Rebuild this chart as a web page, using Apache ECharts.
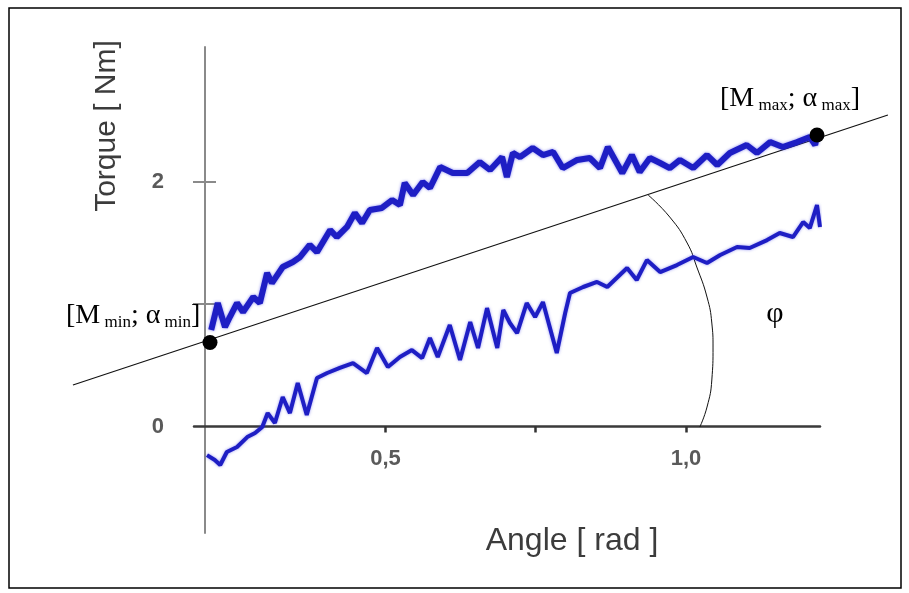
<!DOCTYPE html>
<html>
<head>
<meta charset="utf-8">
<script src="https://cdn.jsdelivr.net/npm/echarts@6/dist/echarts.min.js"></script>
<style>
  html, body { margin: 0; padding: 0; background: #fff; }
  #chart { width: 909px; height: 593px; }
</style>
</head>
<body>
<div id="chart"></div>
<script>
// Upper torque curve (angle in rad, torque in Nm)
const upperAngle = [0.210, 0.221, 0.233, 0.241, 0.253, 0.263, 0.280, 0.291, 0.303, 0.311, 0.329, 0.346, 0.358, 0.374, 0.386, 0.408, 0.419, 0.436, 0.449, 0.461, 0.474, 0.494, 0.511, 0.524, 0.532, 0.546, 0.562, 0.574, 0.591, 0.612, 0.636, 0.657, 0.674, 0.694, 0.702, 0.712, 0.724, 0.745, 0.762, 0.779, 0.795, 0.819, 0.840, 0.857, 0.870, 0.894, 0.910, 0.923, 0.940, 0.957, 0.973, 0.990, 1.012, 1.035, 1.052, 1.073, 1.101, 1.118, 1.140, 1.161, 1.185, 1.206, 1.215, 1.218];
const upperTorque = [0.788, 1.008, 0.812, 0.894, 1.008, 0.935, 1.057, 1.008, 1.253, 1.171, 1.302, 1.343, 1.384, 1.482, 1.424, 1.604, 1.547, 1.629, 1.743, 1.661, 1.767, 1.784, 1.849, 1.808, 1.988, 1.890, 1.996, 1.947, 2.118, 2.069, 2.069, 2.159, 2.094, 2.200, 2.037, 2.233, 2.200, 2.273, 2.216, 2.241, 2.110, 2.176, 2.192, 2.110, 2.282, 2.069, 2.216, 2.078, 2.192, 2.151, 2.110, 2.176, 2.110, 2.216, 2.135, 2.233, 2.298, 2.233, 2.322, 2.282, 2.322, 2.363, 2.298, 2.380];

// Lower torque curve
const lowerAngle = [0.203, 0.216, 0.225, 0.236, 0.253, 0.270, 0.283, 0.295, 0.304, 0.316, 0.329, 0.341, 0.354, 0.369, 0.386, 0.403, 0.424, 0.446, 0.469, 0.486, 0.504, 0.524, 0.544, 0.561, 0.574, 0.587, 0.607, 0.624, 0.641, 0.654, 0.669, 0.686, 0.696, 0.707, 0.719, 0.735, 0.749, 0.762, 0.785, 0.799, 0.807, 0.829, 0.852, 0.869, 0.902, 0.918, 0.935, 0.957, 0.985, 1.012, 1.035, 1.057, 1.085, 1.106, 1.135, 1.156, 1.178, 1.195, 1.206, 1.218, 1.223];
const lowerTorque = [-0.233, -0.273, -0.314, -0.208, -0.167, -0.086, -0.053, -0.004, 0.110, 0.029, 0.241, 0.110, 0.355, 0.094, 0.396, 0.437, 0.478, 0.518, 0.437, 0.641, 0.486, 0.567, 0.624, 0.559, 0.722, 0.567, 0.829, 0.543, 0.853, 0.641, 0.967, 0.641, 0.951, 0.845, 0.763, 1.008, 0.894, 1.016, 0.600, 0.927, 1.090, 1.139, 1.180, 1.139, 1.294, 1.196, 1.359, 1.261, 1.318, 1.384, 1.335, 1.400, 1.465, 1.457, 1.522, 1.580, 1.547, 1.669, 1.620, 1.808, 1.629];

// straight line through [M min; a min] and [M max; a max]
const fitAngle = [-0.020, 1.336];
const fitTorque = [0.339, 2.543];
const pointAngle = [0.208, 1.218];
const pointTorque = [0.686, 2.380];

// angle arc phi
const arcAngle = [0.937, 0.973, 1.002, 1.018, 1.035, 1.043, 1.045, 1.043, 1.035, 1.023];
const arcTorque = [1.890, 1.710, 1.498, 1.302, 1.057, 0.845, 0.649, 0.380, 0.159, -0.004];

// tick positions / labels
const xTicks = [0.5, 0.75, 1.0];
const xLabels = [0.5, 1.0];
const yTicks = [1, 2];
const yLabels = [0, 2];

const zip = (a, b) => a.map((v, i) => [v, b[i]]);

const chart = echarts.init(document.getElementById('chart'));

const Y_MIN = -0.869, Y_MAX = 3.098;
const X_MIN = 0.1814, X_MAX = 1.223;

// main plot box and a wider box (same scale) for the straight line that runs past the axes
const GRID = { left: 194, right: 89, top: 47, bottom: 60 };
const WIDE = { left: 60, right: 10, top: 47, bottom: 60 };
const pxPerX = (909 - GRID.left - GRID.right) / (X_MAX - X_MIN);
const WX_MIN = X_MIN - (GRID.left - WIDE.left) / pxPerX;
const WX_MAX = X_MAX + (GRID.right - WIDE.right) / pxPerX;

// offset that brings the x axis onto torque = 0
const plotH = 593 - GRID.top - GRID.bottom;
const zeroOffset = -plotH * (0 - Y_MIN) / (Y_MAX - Y_MIN);

const bigFont = 'Times New Roman, Liberation Serif, serif';
const annRich = {
  b: { fontFamily: bigFont, fontSize: 28, lineHeight: 30, color: '#000' },
  s: { fontFamily: bigFont, fontSize: 17, lineHeight: 17, verticalAlign: 'bottom', color: '#000' }
};

chart.setOption({
  animation: false,
  backgroundColor: '#fff',
  grid: [
    Object.assign({}, GRID),
    Object.assign({}, WIDE)
  ],
  xAxis: [
    {
      type: 'value',
      gridIndex: 0,
      min: X_MIN,
      max: X_MAX,
      offset: zeroOffset,
      axisLine: { onZero: false, lineStyle: { color: '#3a3a3a', width: 2.5 } },
      axisTick: { show: true, length: 6, customValues: xTicks, lineStyle: { color: '#333', width: 2.5 } },
      axisLabel: {
        customValues: xLabels,
        margin: 21,
        fontFamily: 'Liberation Sans',
        fontSize: 22,
        fontWeight: 'bold',
        color: '#5a5a5a',
        formatter: v => v.toFixed(1).replace('.', ',')
      },
      splitLine: { show: false }
    },
    {
      type: 'value',
      gridIndex: 1,
      min: WX_MIN,
      max: WX_MAX,
      show: false
    }
  ],
  yAxis: [
    {
      type: 'value',
      gridIndex: 0,
      position: 'left',
      min: Y_MIN,
      max: Y_MAX,
      offset: -11,
      axisLine: { show: true, onZero: false, lineStyle: { color: '#8a8a8a', width: 2 } },
      axisTick: { show: true, length: 12, customValues: yTicks, lineStyle: { color: '#8a8a8a', width: 2 } },
      axisLabel: {
        customValues: yLabels,
        margin: 41,
        fontFamily: 'Liberation Sans',
        fontSize: 22,
        fontWeight: 'bold',
        color: '#5a5a5a'
      },
      splitLine: { show: false }
    },
    {
      type: 'value',
      gridIndex: 0,
      position: 'left',
      min: Y_MIN,
      max: Y_MAX,
      offset: -11,
      axisLine: { show: false, onZero: false },
      axisTick: { show: true, inside: true, length: 11, customValues: yTicks, lineStyle: { color: '#8a8a8a', width: 2 } },
      axisLabel: { show: false },
      splitLine: { show: false }
    },
    {
      type: 'value',
      gridIndex: 1,
      min: Y_MIN,
      max: Y_MAX,
      show: false
    }
  ],
  series: [
    {
      name: 'fit',
      type: 'line',
      xAxisIndex: 1,
      yAxisIndex: 2,
      data: zip(fitAngle, fitTorque),
      symbol: 'none',
      lineStyle: { color: '#111', width: 1.2 },
      z: 3
    },
    {
      name: 'arc',
      type: 'line',
      data: zip(arcAngle, arcTorque),
      smooth: true,
      symbol: 'none',
      lineStyle: { color: '#111', width: 1 },
      z: 3
    },
    {
      name: 'upper',
      type: 'line',
      data: zip(upperAngle, upperTorque),
      symbol: 'none',
      lineStyle: { color: '#1e1ec4', width: 6, shadowBlur: 3, shadowColor: 'rgba(50,50,230,0.6)' },
      z: 4
    },
    {
      name: 'lower',
      type: 'line',
      data: zip(lowerAngle, lowerTorque),
      symbol: 'none',
      lineStyle: { color: '#1e1ec4', width: 4, shadowBlur: 3, shadowColor: 'rgba(50,50,230,0.5)' },
      z: 4
    },
    {
      name: 'points',
      type: 'scatter',
      data: zip(pointAngle, pointTorque),
      symbolSize: 15,
      itemStyle: { color: '#000', opacity: 1 },
      z: 6
    }
  ],
  graphic: [
    {
      type: 'rect',
      shape: { x: 9, y: 8, width: 892, height: 580 },
      style: { fill: 'none', stroke: '#000', lineWidth: 1.5 },
      z: 0
    },
    {
      type: 'text',
      x: 107, y: 126,
      rotation: Math.PI / 2,
      style: {
        text: 'Torque [ Nm]',
        font: '30px "Liberation Sans"',
        fill: '#3c3c3c',
        align: 'center',
        verticalAlign: 'middle'
      }
    },
    {
      type: 'text',
      x: 572, y: 541,
      style: {
        text: 'Angle [ rad ]',
        font: '32px "Liberation Sans"',
        fill: '#3c3c3c',
        align: 'center',
        verticalAlign: 'middle'
      }
    },
    {
      type: 'text',
      x: 720, y: 99,
      style: {
        text: '{b|[M}{s| max}{b|; α}{s| max}{b|]}',
        verticalAlign: 'middle',
        rich: annRich
      },
      z: 10
    },
    {
      type: 'text',
      x: 66, y: 316,
      style: {
        text: '{b|[M}{s| min}{b|; α}{s| min}{b|]}',
        verticalAlign: 'middle',
        rich: annRich
      },
      z: 10
    },
    {
      type: 'text',
      x: 775, y: 314,
      style: {
        text: 'φ',
        font: '30px ' + bigFont,
        fill: '#000',
        align: 'center',
        verticalAlign: 'middle'
      },
      z: 10
    }
  ]
});

window.addEventListener('resize', () => chart.resize());
</script>
</body>
</html>
